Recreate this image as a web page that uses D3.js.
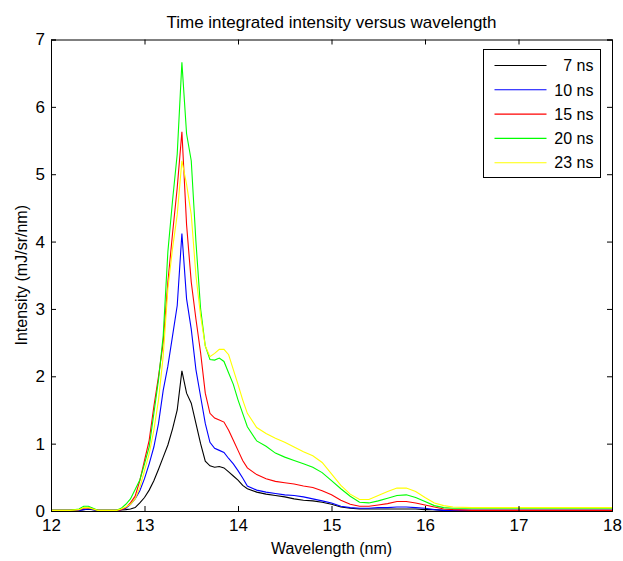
<!DOCTYPE html>
<html>
<head>
<meta charset="utf-8">
<script src="https://cdn.jsdelivr.net/npm/d3@7"></script>
<style>
  body { margin: 0; background: #fff; }
  svg text { font-family: "Liberation Sans", Arial, Helvetica, sans-serif; fill: #000; }
  .axis path, .axis line { stroke: #000; }
</style>
</head>
<body>
<div id="chart"></div>
<script>
// Wavelength samples (nm)
var wavelength = [12.0, 12.2, 12.3, 12.35, 12.4, 12.45, 12.5, 12.6, 12.7, 12.75, 12.8, 12.85, 12.9, 12.95,
  13.0, 13.05, 13.1, 13.15, 13.2, 13.25, 13.3, 13.35, 13.4, 13.45, 13.5, 13.55, 13.6, 13.65, 13.7, 13.75,
  13.8, 13.85, 13.9, 13.95, 14.0, 14.05, 14.1, 14.2, 14.3, 14.4, 14.5, 14.6, 14.7, 14.8, 14.9, 15.0,
  15.1, 15.2, 15.3, 15.4, 15.5, 15.6, 15.7, 15.8, 15.9, 16.0, 16.1, 16.2, 16.3, 16.5, 17.0, 17.5, 18.0];

// Intensity (mJ/sr/nm) per delay
var ns7 = [0.01, 0.01, 0.01, 0.02, 0.025, 0.02, 0.01, 0.01, 0.01, 0.015, 0.02, 0.03, 0.05, 0.12,
  0.2, 0.31, 0.45, 0.62, 0.8, 0.98, 1.22, 1.5, 2.08, 1.75, 1.6, 1.3, 1.0, 0.74, 0.67, 0.65,
  0.66, 0.64, 0.58, 0.52, 0.46, 0.38, 0.33, 0.28, 0.25, 0.23, 0.21, 0.18, 0.16, 0.15, 0.13, 0.1,
  0.06, 0.04, 0.03, 0.03, 0.03, 0.03, 0.03, 0.03, 0.03, 0.02, 0.02, 0.01, 0.01, 0.01, 0.01, 0.01, 0.01];

var ns10 = [0.01, 0.01, 0.01, 0.02, 0.03, 0.02, 0.01, 0.01, 0.01, 0.02, 0.04, 0.1, 0.18, 0.3,
  0.48, 0.7, 0.95, 1.3, 1.79, 2.15, 2.6, 3.05, 4.12, 3.15, 2.7, 2.1, 1.7, 1.3, 1.02, 0.93,
  0.9, 0.87, 0.78, 0.7, 0.6, 0.49, 0.37, 0.31, 0.28, 0.26, 0.24, 0.23, 0.21, 0.18, 0.15, 0.12,
  0.07, 0.05, 0.04, 0.04, 0.05, 0.05, 0.06, 0.06, 0.05, 0.04, 0.02, 0.01, 0.01, 0.01, 0.01, 0.01, 0.01];

var ns15 = [0.01, 0.01, 0.02, 0.04, 0.05, 0.03, 0.01, 0.01, 0.01, 0.02, 0.05, 0.12, 0.22, 0.45,
  0.75, 1.05, 1.55, 2.0, 2.5, 3.4, 4.12, 4.8, 5.63, 4.25, 3.4, 2.85, 2.35, 1.75, 1.45, 1.38,
  1.35, 1.32, 1.2, 1.05, 0.9, 0.75, 0.64, 0.54, 0.48, 0.44, 0.42, 0.4, 0.37, 0.35, 0.3, 0.24,
  0.16, 0.1, 0.07, 0.07, 0.09, 0.11, 0.14, 0.14, 0.12, 0.09, 0.06, 0.03, 0.02, 0.01, 0.01, 0.01, 0.01];

var ns20 = [0.01, 0.01, 0.03, 0.07, 0.07, 0.04, 0.01, 0.01, 0.01, 0.04, 0.1, 0.18, 0.32, 0.46,
  0.7, 0.95, 1.45, 1.95, 2.6, 3.85, 4.61, 5.3, 6.66, 5.6, 5.2, 4.0, 3.0, 2.45, 2.25, 2.24,
  2.27, 2.22, 2.05, 1.88, 1.65, 1.45, 1.25, 1.04, 0.96, 0.86, 0.8, 0.75, 0.7, 0.65, 0.57, 0.45,
  0.33, 0.22, 0.13, 0.12, 0.15, 0.19, 0.23, 0.24, 0.2, 0.14, 0.08, 0.05, 0.04, 0.04, 0.04, 0.04, 0.04];

var ns23 = [0.01, 0.01, 0.02, 0.05, 0.05, 0.03, 0.01, 0.01, 0.01, 0.03, 0.06, 0.1, 0.18, 0.35,
  0.6, 0.85, 1.2, 1.65, 2.3, 3.3, 3.9, 4.4, 5.2, 4.85, 4.4, 3.5, 2.9, 2.45, 2.29, 2.34,
  2.4, 2.4, 2.32, 2.1, 1.88, 1.65, 1.45, 1.24, 1.15, 1.08, 1.02, 0.95, 0.88, 0.82, 0.72, 0.55,
  0.38, 0.25, 0.17, 0.17, 0.23, 0.29, 0.34, 0.34, 0.29, 0.2, 0.12, 0.08, 0.06, 0.05, 0.05, 0.05, 0.05];

var seriesNames = ["7 ns", "10 ns", "15 ns", "20 ns", "23 ns"];
var seriesValues = [ns7, ns10, ns15, ns20, ns23];
var seriesColors = ["#000000", "#0000ff", "#ff0000", "#00ff00", "#ffff00"];

var xTicks = [12, 13, 14, 15, 16, 17, 18];
var yTicks = [0, 1, 2, 3, 4, 5, 6, 7];

// Chart setup
var svgWidth = 623;
var svgHeight = 561;

var margin = { top: 39.5, right: 11, bottom: 50, left: 51 };
var width = svgWidth - margin.left - margin.right;
var height = svgHeight - margin.top - margin.bottom;

var svg = d3.select("#chart")
  .append("svg")
  .attr("width", svgWidth)
  .attr("height", svgHeight);

var chartGroup = svg.append("g")
  .attr("transform", `translate(${margin.left}, ${margin.top})`);

var xScale = d3.scaleLinear().domain([12, 18]).range([0, width]);
var yScale = d3.scaleLinear().domain([0, 7]).range([height, 0]);

// Lines
var line = d3.line()
  .x((d, i) => xScale(wavelength[i]))
  .y(d => yScale(d));

chartGroup.selectAll(".series")
  .data(seriesValues)
  .enter()
  .append("path")
  .attr("class", "series")
  .attr("fill", "none")
  .attr("stroke", (d, i) => seriesColors[i])
  .attr("stroke-width", 1.1)
  .attr("d", line);

// Axes, ticks pointing inward on every side
var bottomAxis = d3.axisBottom(xScale).tickValues(xTicks).tickSize(-5).tickPadding(8).tickFormat(d3.format("d"));
var topAxis = d3.axisTop(xScale).tickValues(xTicks).tickSize(-5).tickFormat("");
var leftAxis = d3.axisLeft(yScale).tickValues(yTicks).tickSize(-5).tickPadding(6).tickFormat(d3.format("d"));
var rightAxis = d3.axisRight(yScale).tickValues(yTicks).tickSize(-5).tickFormat("");

chartGroup.append("g").attr("class", "axis")
  .attr("transform", `translate(0, ${height})`)
  .call(bottomAxis);
chartGroup.append("g").attr("class", "axis").call(topAxis);
chartGroup.append("g").attr("class", "axis").call(leftAxis);
chartGroup.append("g").attr("class", "axis")
  .attr("transform", `translate(${width}, 0)`)
  .call(rightAxis);

chartGroup.selectAll(".axis text")
  .style("font-size", "17px")
  .style("font-family", "'Liberation Sans', Arial, sans-serif");
chartGroup.selectAll(".axis .domain").attr("stroke-width", 1);

// Title and axis labels
svg.append("text")
  .attr("x", margin.left + width / 2)
  .attr("y", 28)
  .attr("text-anchor", "middle")
  .style("font-size", "17px")
  .text("Time integrated intensity versus wavelength");

svg.append("text")
  .attr("x", margin.left + width / 2)
  .attr("y", 554)
  .attr("text-anchor", "middle")
  .style("font-size", "16px")
  .text("Wavelength (nm)");

svg.append("text")
  .attr("transform", "rotate(-90)")
  .attr("x", -(margin.top + height / 2))
  .attr("y", 27)
  .attr("text-anchor", "middle")
  .style("font-size", "16px")
  .text("Intensity (mJ/sr/nm)");

// Legend
var legend = svg.append("g").attr("transform", "translate(483.5, 49.5)");
legend.append("rect")
  .attr("width", 117)
  .attr("height", 128)
  .attr("fill", "#fff")
  .attr("stroke", "#000");

var items = legend.selectAll(".item")
  .data(seriesNames)
  .enter()
  .append("g")
  .attr("transform", (d, i) => `translate(0, ${16 + i * 24.3})`);

items.append("line")
  .attr("x1", 11).attr("x2", 63)
  .attr("stroke", (d, i) => seriesColors[i])
  .attr("stroke-width", 1.1);

items.append("text")
  .attr("x", 110)
  .attr("dy", "0.36em")
  .attr("text-anchor", "end")
  .style("font-size", "16px")
  .text(d => d);
</script>
</body>
</html>
